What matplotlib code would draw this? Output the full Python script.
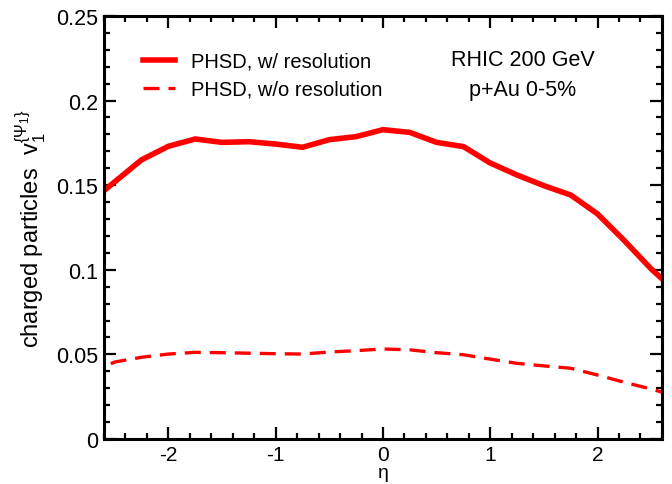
import matplotlib
matplotlib.use("Agg")
import matplotlib.pyplot as plt
from matplotlib.ticker import MultipleLocator

plt.rcParams['font.family'] = ['Liberation Sans', 'DejaVu Sans']
plt.rcParams['mathtext.fontset'] = 'custom'
plt.rcParams['mathtext.rm'] = 'Liberation Sans'
plt.rcParams['mathtext.it'] = 'Liberation Sans'
plt.rcParams['axes.unicode_minus'] = False

eta = [-2.75, -2.5, -2.25, -2.0, -1.75, -1.5, -1.25, -1.0, -0.75, -0.5, -0.25, 0.0,
       0.25, 0.5, 0.75, 1.0, 1.25, 1.5, 1.75, 2.0, 2.25, 2.5, 2.75]
v1_res = [0.139, 0.152, 0.165, 0.173, 0.1773, 0.1753, 0.1757, 0.1743, 0.1724, 0.1769,
          0.1787, 0.1828, 0.1812, 0.1753, 0.1728, 0.1631, 0.156, 0.1497, 0.1442, 0.133,
          0.1172, 0.1005, 0.086]
v1_nores = [0.0385, 0.0455, 0.0483, 0.0502, 0.0512, 0.0510, 0.0507, 0.0504, 0.0502, 0.0514,
            0.0522, 0.0532, 0.0527, 0.0510, 0.0498, 0.0472, 0.0447, 0.0432, 0.0418, 0.0378,
            0.0335, 0.0295, 0.025]

xticks = [-2, -1, 0, 1, 2]
yticks = [0, 0.05, 0.1, 0.15, 0.2, 0.25]
ytick_labels = ['0', '0.05', '0.1', '0.15', '0.2', '0.25']

red = '#ff0000'
fig = plt.figure(figsize=(6.72, 4.85), dpi=100)
ax = fig.add_axes([0.1548, 0.0928, 0.985 - 0.1548, 0.965 - 0.0928])

ax.plot(eta, v1_res, color=red, lw=4.0, solid_joinstyle='miter',
        label='PHSD, w/ resolution')
ax.plot(eta, v1_nores, color=red, lw=2.4, dashes=(4.8, 2.7),
        label='PHSD, w/o resolution')

ax.set_xlim(-2.6, 2.6)
ax.set_ylim(0, 0.25)
ax.set_xticks(xticks)
ax.set_xticklabels([str(t) for t in xticks])
ax.set_yticks(yticks)
ax.set_yticklabels(ytick_labels)
ax.xaxis.set_minor_locator(MultipleLocator(0.2))
ax.yaxis.set_minor_locator(MultipleLocator(0.01))

for s in ax.spines.values():
    s.set_linewidth(2.2)
ax.tick_params(which='both', direction='in', top=True, right=True, width=1.6)
ax.tick_params(which='major', length=8.5, labelsize=15.5)
ax.tick_params(which='minor', length=4.3)
ax.tick_params(axis='x', pad=4, labelsize=15)
ax.tick_params(axis='y', pad=4)

ax.set_xlabel('η', fontsize=14, labelpad=0)
ax.set_ylabel(r'charged particles  v$_1^{\{\Psi_1\}}$', fontsize=17, labelpad=6)

ax.text(0.751, 0.898, 'RHIC 200 GeV', transform=ax.transAxes, fontsize=15.5,
        ha='center', va='center')
ax.text(0.751, 0.827, 'p+Au 0-5%', transform=ax.transAxes, fontsize=15.5,
        ha='center', va='center')

ax.legend(loc='upper left', bbox_to_anchor=(0.07, 0.915), frameon=False,
          fontsize=14.5, handlelength=1.6, handletextpad=0.8, labelspacing=0.45,
          borderpad=0, borderaxespad=0)

fig.savefig('out.png', dpi=100)
